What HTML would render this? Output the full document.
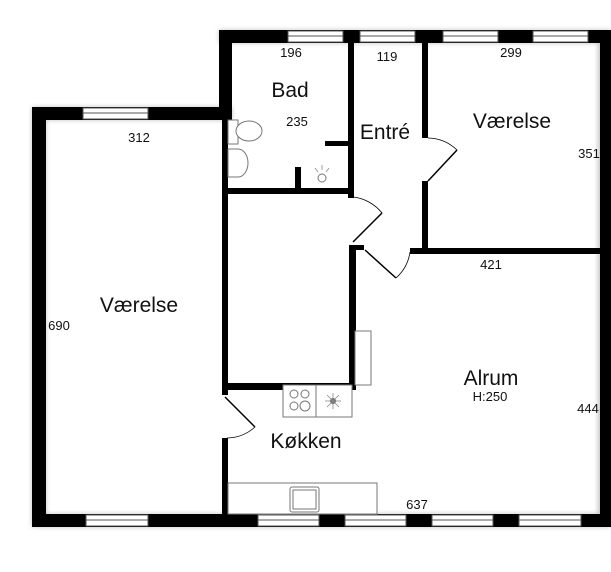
<!DOCTYPE html>
<html><head><style>
body{margin:0;background:#fff;}
svg{display:block;}
text{font-family:"Liberation Sans",sans-serif;fill:#111;}
</style></head><body>
<svg width="611" height="572" viewBox="0 0 611 572" xmlns="http://www.w3.org/2000/svg">
<defs>
<filter id="sh" x="-10%" y="-10%" width="120%" height="120%"><feGaussianBlur stdDeviation="2.5"/></filter>
</defs>
<g fill="#999" filter="url(#sh)" opacity="0.6">
<rect x="32" y="107" width="200" height="13"/><rect x="32" y="107" width="14" height="420"/>
<rect x="219" y="30" width="392" height="13"/><rect x="598" y="30" width="13" height="497"/>
<rect x="32" y="514" width="579" height="13"/>
</g>
<g fill="#000">
<rect x="32" y="107" width="200" height="13"/>
<rect x="32" y="107" width="14" height="420"/>
<rect x="219" y="30" width="13" height="90"/>
<rect x="219" y="30" width="392" height="13"/>
<rect x="600" y="30" width="11" height="497"/>
<rect x="32" y="514" width="579" height="13"/>
<rect x="222" y="117" width="6" height="278"/>
<rect x="222" y="438" width="6" height="78"/>
<rect x="222" y="188" width="131" height="6"/>
<rect x="348" y="43" width="6" height="155"/>
<rect x="422" y="43" width="6" height="95"/>
<rect x="422" y="181" width="6" height="72"/>
<rect x="410" y="248" width="190" height="6"/>
<rect x="349" y="245" width="7" height="145"/>
<rect x="349" y="245" width="15" height="5"/>
<rect x="222" y="383" width="134" height="7"/>
<rect x="325" y="141" width="25" height="5"/>
<rect x="295" y="167" width="6" height="23"/>
</g>
<g fill="#fff" stroke="#555" stroke-width="1">
<rect x="83" y="108" width="65" height="11"/>
<rect x="288" y="31" width="55" height="11"/>
<rect x="360" y="31" width="55" height="11"/>
<rect x="443" y="31" width="55" height="11"/>
<rect x="533" y="31" width="55" height="11"/>
<rect x="86" y="515" width="62" height="11"/>
<rect x="258" y="515" width="61" height="11"/>
<rect x="345" y="515" width="61" height="11"/>
<rect x="432" y="515" width="61" height="11"/>
<rect x="519" y="515" width="62" height="11"/>
</g>
<g stroke="#555" stroke-width="1">
<line x1="83" y1="113" x2="148" y2="113"/><line x1="288" y1="36" x2="343" y2="36"/><line x1="360" y1="36" x2="415" y2="36"/>
<line x1="443" y1="36" x2="498" y2="36"/><line x1="533" y1="36" x2="588" y2="36"/>
<line x1="86" y1="520" x2="148" y2="520"/><line x1="258" y1="520" x2="319" y2="520"/><line x1="345" y1="520" x2="406" y2="520"/>
<line x1="432" y1="520" x2="493" y2="520"/><line x1="519" y1="520" x2="581" y2="520"/>
</g>
<g fill="none" stroke="#000">
<path d="M428 138 A43 43 0 0 1 457 150" stroke-width="0.8"/><line x1="457" y1="150" x2="428" y2="181" stroke-width="1.5"/>
<path d="M353 197 A43 43 0 0 1 382 213" stroke-width="0.8"/><line x1="382" y1="213" x2="353" y2="242" stroke-width="1.5"/>
<path d="M410 252 A43 43 0 0 1 396 278" stroke-width="0.8"/><line x1="396" y1="278" x2="365" y2="250" stroke-width="1.5"/>
<line x1="225" y1="397" x2="255" y2="427" stroke-width="1.5"/><path d="M255 427 A43 43 0 0 1 227 438" stroke-width="0.8"/>
</g>
<g fill="#fff" stroke="#777" stroke-width="1">
<rect x="228" y="120" width="10" height="24"/>
<ellipse cx="249" cy="131" rx="13" ry="10"/>
<path d="M228 149 h10 a10 14 0 0 1 0 28 h-10 z"/>
<circle cx="322" cy="178" r="4"/>
<rect x="355" y="331" width="16" height="54"/>
<rect x="283" y="385" width="33" height="32"/>
<rect x="316" y="385" width="36" height="32"/>
<circle cx="294" cy="394" r="4"/><circle cx="305" cy="394" r="4"/><circle cx="294" cy="406" r="4"/><circle cx="305" cy="406" r="5"/>
<rect x="228" y="483" width="149" height="31"/>
<rect x="290" y="487" width="29" height="25" rx="2"/>
<rect x="293" y="490" width="23" height="19"/>
</g>
<circle cx="333" cy="401" r="3" fill="#666"/>
<g stroke="#888" stroke-width="0.8"><line x1="325" y1="401" x2="341" y2="401"/><line x1="333" y1="393" x2="333" y2="409"/><line x1="327" y1="395" x2="339" y2="407"/><line x1="339" y1="395" x2="327" y2="407"/>
<line x1="322" y1="165" x2="322" y2="170"/><line x1="315" y1="168" x2="318" y2="172"/><line x1="329" y1="168" x2="326" y2="172"/></g>
<g font-size="13" text-anchor="middle">
<text x="291" y="57">196</text><text x="387" y="61">119</text><text x="511" y="57">299</text>
<text x="297" y="126">235</text><text x="589" y="158">351</text><text x="139" y="142">312</text>
<text x="59" y="330">690</text><text x="491" y="269">421</text><text x="490" y="401">H:250</text>
<text x="588" y="413">444</text><text x="417" y="509">637</text>
</g>
<g font-size="21" text-anchor="middle">
<text x="290" y="97">Bad</text><text x="385" y="139">Entré</text><text x="512" y="128">Værelse</text>
<text x="139" y="312">Værelse</text><text x="491" y="385">Alrum</text><text x="306" y="448">Køkken</text>
</g>
</svg>
</body></html>
